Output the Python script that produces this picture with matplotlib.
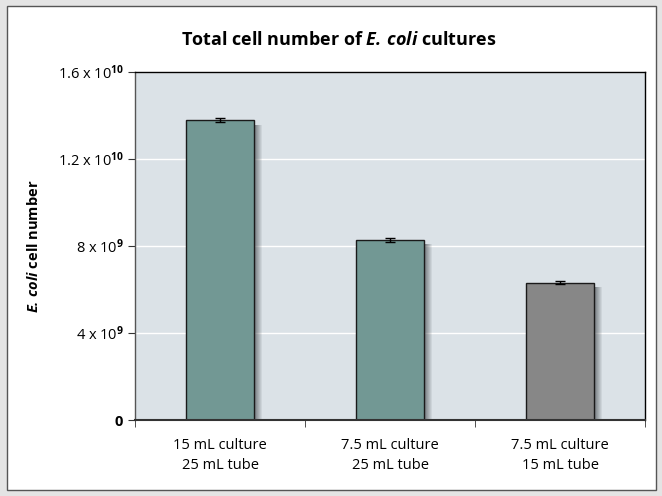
import matplotlib
matplotlib.use("Agg")
import matplotlib.pyplot as plt
from matplotlib.patches import Rectangle
import numpy as np

categories = ["15 mL culture\n25 mL tube", "7.5 mL culture\n25 mL tube", "7.5 mL culture\n15 mL tube"]
values = [1.378e10, 8.28e9, 6.31e9]
errors = [1.0e8, 8.0e7, 8.0e7]
bar_colors = ["#729894", "#729894", "#878787"]
ytick_vals = [0, 4e9, 8e9, 1.2e10, 1.6e10]
ytick_labels = [r"$\mathbf{0}$", r"4 x 10$^{\mathbf{9}}$", r"8 x 10$^{\mathbf{9}}$",
                r"1.2 x 10$^{\mathbf{10}}$", r"1.6 x 10$^{\mathbf{10}}$"]

plt.rcParams["font.family"] = ["Open Sans", "DejaVu Sans"]
plt.rcParams["mathtext.fontset"] = "custom"
plt.rcParams["mathtext.rm"] = "Open Sans"
plt.rcParams["mathtext.it"] = "Open Sans:italic"
plt.rcParams["mathtext.bf"] = "Open Sans:bold"
plt.rcParams["mathtext.bfit"] = "Open Sans:italic:bold"

fig = plt.figure(figsize=(6.62, 4.96), dpi=100)
fig.patch.set_facecolor("#e4e4e4")
frame = Rectangle((7 / 662, 1 - 490 / 496), 649 / 662, 484 / 496,
                  transform=fig.transFigure, facecolor="white",
                  edgecolor="#555555", linewidth=1.0, zorder=-10)
fig.add_artist(frame)

ax = fig.add_axes([135 / 662, 1 - 420 / 496, 510 / 662, 348 / 496])
ax.set_zorder(1)
ax.set_facecolor("#dbe2e7")

x = np.arange(len(categories))
width = 0.40
# shadows (gradient strips to the right of each bar)
px = 3.0 / 510
n = 8
for xi, v in zip(x, values):
    for k in range(n):
        x0 = xi + width / 2 + k * px
        ax.add_patch(Rectangle((x0, 0), px * 1.02, v - 0.02e10, facecolor="#50565a",
                               alpha=0.75 * (1 - k / n), edgecolor="none", zorder=1))
ax.bar(x, values, width=width, color=bar_colors, edgecolor="#1a1a1a", linewidth=1.0, zorder=2)
ax.errorbar(x, values, yerr=errors, fmt="none", ecolor="black", elinewidth=1.0,
            capsize=3.5, capthick=1.0, zorder=3)

ax.set_xlim(-0.5, 2.5)
ax.set_ylim(0, 1.6e10)
ax.set_yticks(ytick_vals)
ax.set_yticklabels(ytick_labels, fontsize=10.5)
ax.set_xticks(x)
ax.set_xticklabels(categories, fontsize=10.5, linespacing=1.45)
ax.tick_params(axis="x", length=0, pad=13)
ax.set_xticks([-0.5, 0.5, 1.5, 2.5], minor=True)
ax.tick_params(axis="x", which="minor", length=5, color="#333333", direction="out")
ax.tick_params(axis="y", length=5, color="#333333", direction="out", pad=3)

ax.yaxis.grid(True, color="white", linewidth=1.0, zorder=0)
ax.set_axisbelow(True)

ax.spines["left"].set_color("#555555")
ax.spines["bottom"].set_color("#333333")
ax.spines["bottom"].set_linewidth(1.5)
ax.spines["top"].set_color("black")
ax.spines["right"].set_color("black")
for name in ["left", "top", "right"]:
    ax.spines[name].set_linewidth(1.0)

ax.set_ylabel(r"$\mathbfit{E.\,coli}$ cell number", fontsize=10.5, fontweight="bold", labelpad=12)
fig.text(339 / 662, 1 - 40 / 496, r"Total cell number of $\mathbfit{E.\,coli}$ cultures",
         ha="center", va="center", fontsize=13, fontweight="bold")

fig.savefig("out.png", dpi=100, facecolor=fig.get_facecolor())
